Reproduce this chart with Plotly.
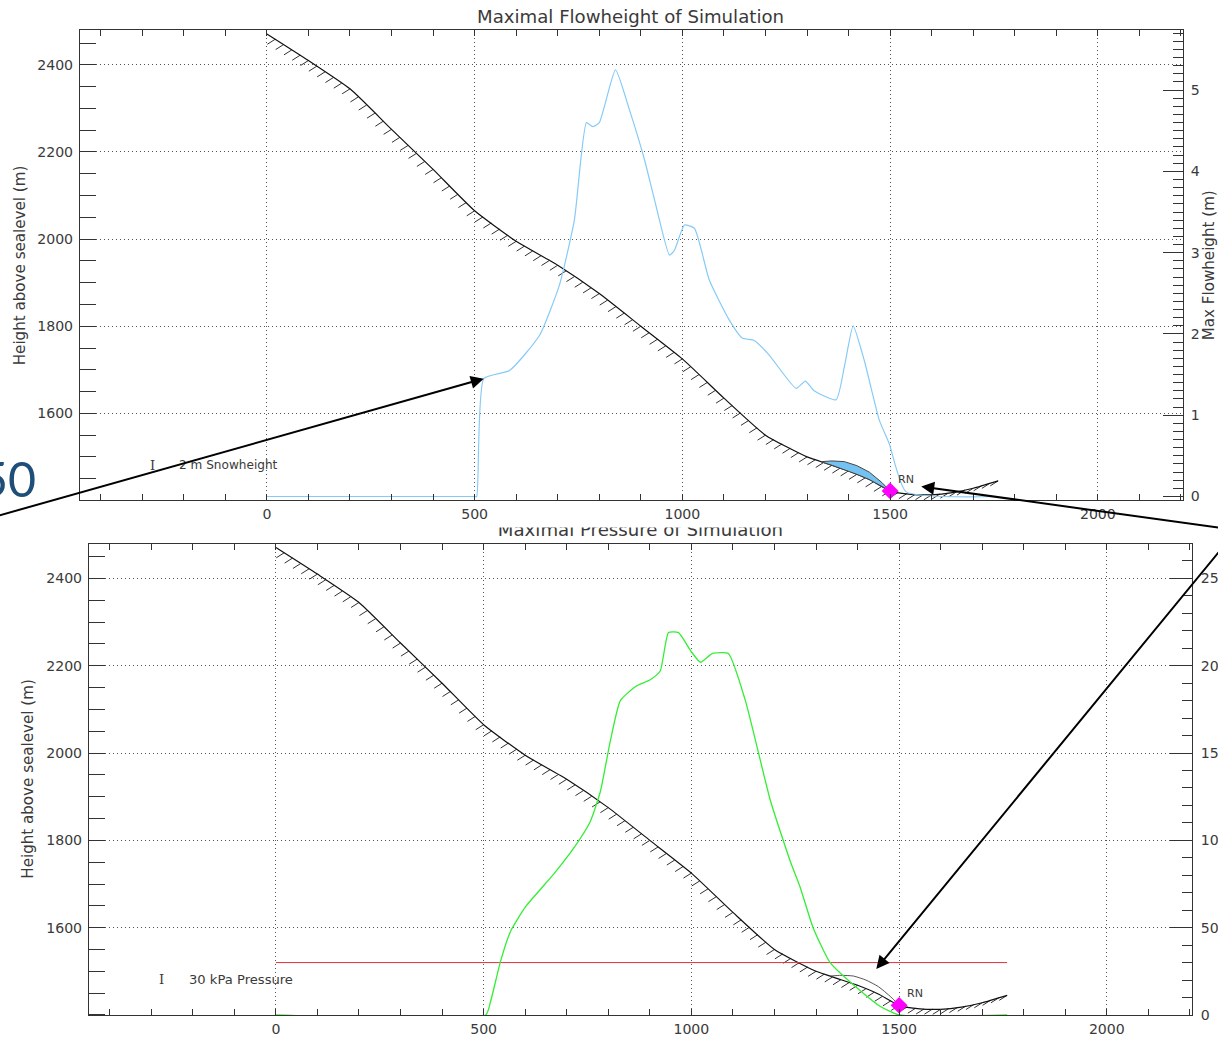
import numpy as np
import plotly.graph_objects as go

W, H = 1218, 1038          # reference picture size (layout coordinates below are in these pixels)
S = 1.0085                 # compensation for the slight down-scaling seen in the rendered photo
FW, FH = round(W * S), round(H * S)

# ---------------- data ----------------
terrain_x = [0, 100, 200, 300, 400, 500, 600, 700, 800, 900, 1000, 1100, 1200, 1300, 1350, 1400, 1450, 1500, 1550, 1600, 1650, 1700, 1760]
terrain_h = [2471, 2410, 2345, 2252, 2160, 2065, 1995, 1940, 1875, 1800, 1725, 1635, 1550, 1500, 1484, 1468, 1448, 1422, 1414, 1413, 1418, 1428, 1445]

flow_x = [0, 500, 505, 522, 584, 656, 704, 740, 769, 784, 800, 839, 873, 909, 933, 969, 981, 1005, 1029, 1065, 1113, 1144, 1173, 1209, 1274, 1296, 1317, 1370, 1390, 1411, 1438, 1474, 1498, 1538, 1760]
flow_v = [0, 0, 0, 1.45, 1.55, 1.98, 2.6, 3.4, 4.6, 4.55, 4.6, 5.25, 4.75, 4.14, 3.65, 2.97, 3.03, 3.34, 3.3, 2.66, 2.17, 1.95, 1.92, 1.74, 1.33, 1.42, 1.3, 1.19, 1.6, 2.1, 1.67, 0.94, 0.65, 0.06, 0]

deposit_x = [1334, 1360, 1390, 1420, 1450, 1480, 1500]
deposit_t = [0, 10, 18, 20, 17, 9, 0]

press_x = [0, 505, 517, 541, 565, 601, 637, 673, 721, 757, 781, 805, 829, 865, 901, 925, 945, 969, 1000, 1022, 1050, 1089, 1130, 1190, 1238, 1262, 1293, 1334, 1406, 1454, 1500, 1760]
press_v = [0, 0, 8, 31, 48, 62, 72, 82, 97, 111, 128, 157, 180, 188, 192, 197, 219, 219, 208, 202, 207, 207, 180, 123, 88, 73, 50, 30, 14, 5, 0, 0]

threshold_kpa = 30
rn_x = 1500

x_ticks = [0, 500, 1000, 1500, 2000]
h_ticks = [1600, 1800, 2000, 2200, 2400]
flow_ticks = [0, 1, 2, 3, 4, 5]
press_ticks = [0, 50, 100, 150, 200, 250]

X_RANGE = [-450, 2205]
H_RANGE = [1400, 2480]
F_RANGE = [-0.049, 5.739]
P_RANGE = [0, 270]

# plot boxes in reference pixels: (left, right, top, bottom)
TOP_BOX = (80, 1184, 30, 500)
BOT_BOX = (89, 1193, 543, 1014)

# ---------------- helpers ----------------
def px(v):
    return v / W

def py(v):
    return 1 - v / H

def sz(v):
    return v * S

def to_x(p, box):
    l, r, _, _ = box
    return X_RANGE[0] + (p - l) / (r - l) * (X_RANGE[1] - X_RANGE[0])

def to_y(p, box, rng):
    _, _, t, b = box
    return rng[0] + (b - p) / (b - t) * (rng[1] - rng[0])

TXT = "#3a3a3a"
AX = "#333333"
GRID = "#555555"
GDASH = "1px,3px"

hx = np.arange(20, 1761, 20)
hh = np.interp(hx, terrain_x, terrain_h)
hatch_x, hatch_y = [], []
for a, b in zip(hx, hh):
    hatch_x += [a, a - 19, None]
    hatch_y += [b, b - 11.5, None]

dep_ter = np.interp(deposit_x, terrain_x, terrain_h)
dep_top = dep_ter + np.array(deposit_t)
poly_x = list(deposit_x) + list(deposit_x[::-1])
poly_y = list(dep_top) + list(dep_ter[::-1])
rn_h = float(np.interp(rn_x, terrain_x, terrain_h))

fig = go.Figure()

for xa, ya in [("x", "y"), ("x3", "y3")]:
    fig.add_trace(go.Scatter(x=hatch_x, y=hatch_y, xaxis=xa, yaxis=ya, mode="lines",
                             line=dict(color="#333", width=1), hoverinfo="skip"))
    fig.add_trace(go.Scatter(x=terrain_x, y=terrain_h, xaxis=xa, yaxis=ya, mode="lines",
                             line=dict(color="#111", width=1.2, shape="spline", smoothing=0.5), hoverinfo="skip"))

# top deposit fill
fig.add_trace(go.Scatter(x=poly_x, y=poly_y, xaxis="x", yaxis="y", mode="lines", fill="toself",
                         fillcolor="#74C2F2", line=dict(color="#444", width=1)))
# bottom deposit outline
fig.add_trace(go.Scatter(x=deposit_x, y=dep_top, xaxis="x3", yaxis="y3", mode="lines",
                         line=dict(color="#555", width=1, shape="spline", smoothing=0.6)))

# flowheight
fig.add_trace(go.Scatter(x=flow_x, y=flow_v, xaxis="x", yaxis="y2", mode="lines",
                         line=dict(color="#86CBF7", width=1.2, shape="spline", smoothing=0.5)))
# pressure threshold + pressure
fig.add_trace(go.Scatter(x=[terrain_x[0], terrain_x[-1]], y=[threshold_kpa, threshold_kpa], xaxis="x3", yaxis="y4",
                         mode="lines", line=dict(color="#E0303A", width=1)))
fig.add_trace(go.Scatter(x=press_x, y=press_v, xaxis="x3", yaxis="y4", mode="lines",
                         line=dict(color="#33EE33", width=1.3, shape="spline", smoothing=0.5)))

# RN markers
for xa, ya in [("x", "y"), ("x3", "y3")]:
    fig.add_trace(go.Scatter(x=[rn_x], y=[rn_h], xaxis=xa, yaxis=ya, mode="markers",
                             marker=dict(symbol="diamond", size=13, color="#FF00FF")))

# clipped bottom title (partly hidden, as in the reference)
fig.add_trace(go.Scatter(x=[641], y=[530.5], xaxis="x5", yaxis="y5", mode="text",
                         text=["Maximal Pressure of Simulation"], cliponaxis=True,
                         textfont=dict(size=sz(18), color=TXT), textposition="middle center"))

xcommon = dict(range=X_RANGE, tickvals=x_ticks, ticks="", showline=True, linecolor=AX, linewidth=1,
               mirror="ticks", showgrid=True, gridcolor=GRID, griddash=GDASH, gridwidth=1, zeroline=False,
               tickfont=dict(size=sz(14), color=TXT), ticklabelstandoff=1,
               minor=dict(tickmode="linear", tick0=0, dtick=100, ticks="inside", ticklen=6, tickcolor=AX, showgrid=False))
ycommon = dict(range=H_RANGE, tickvals=h_ticks, ticks="", showline=True, linecolor=AX, linewidth=1,
               showgrid=True, gridcolor=GRID, griddash=GDASH, gridwidth=1, zeroline=False,
               tickfont=dict(size=sz(14), color=TXT), ticklabelstandoff=3,
               minor=dict(tickmode="linear", tick0=0, dtick=50, ticks="inside", ticklen=16, tickcolor=AX, showgrid=False))

fig.update_layout(
    width=FW, height=FH, margin=dict(l=0, r=0, t=0, b=0),
    paper_bgcolor="white", plot_bgcolor="rgba(0,0,0,0)", showlegend=False,
    font=dict(family="DejaVu Sans", color=TXT),
    xaxis=dict(domain=[px(TOP_BOX[0]), px(TOP_BOX[1])], anchor="y", **xcommon),
    yaxis=dict(domain=[py(TOP_BOX[3]), py(TOP_BOX[2])], anchor="x", **ycommon),
    yaxis2=dict(overlaying="y", side="right", anchor="x", range=F_RANGE, tickvals=flow_ticks,
                ticks="inside", ticklen=20, tickcolor=AX, showline=True, linecolor=AX, showgrid=False, zeroline=False,
                tickfont=dict(size=sz(14), color=TXT), ticklabelstandoff=4,
                minor=dict(tickmode="linear", tick0=0, dtick=0.1, ticks="inside", ticklen=10, tickcolor=AX)),
    xaxis3=dict(domain=[px(BOT_BOX[0]), px(BOT_BOX[1])], anchor="y3", **xcommon),
    yaxis3=dict(domain=[py(BOT_BOX[3]), py(BOT_BOX[2])], anchor="x3", **ycommon),
    yaxis4=dict(overlaying="y3", side="right", anchor="x3", range=P_RANGE, tickvals=press_ticks,
                ticks="inside", ticklen=22, tickcolor=AX, showline=True, linecolor=AX, showgrid=False, zeroline=False,
                tickfont=dict(size=sz(14), color=TXT), ticklabelstandoff=5,
                minor=dict(tickmode="linear", tick0=0, dtick=10, ticks="inside", ticklen=10, tickcolor=AX)),
    xaxis5=dict(domain=[0, 1], range=[0, W], visible=False, fixedrange=True),
    yaxis5=dict(domain=[py(541), py(527)], range=[541, 527], visible=False, fixedrange=True, anchor="x5"),
)

ann = []
def text(t, xp, yp, size=13, anchor="center", angle=0, family=None, color=TXT):
    d = dict(text=t, x=px(xp), y=py(yp), xref="paper", yref="paper", showarrow=False,
             xanchor=anchor, yanchor="middle", textangle=angle, font=dict(size=sz(size), color=color))
    if family:
        d["font"]["family"] = family
    ann.append(d)

text("Maximal Flowheight of Simulation", 631, 16, size=18)
text("Height above sealevel (m)", 20, 265, size=15, angle=-90)
text("Max Flowheight (m)", 1210, 265, size=15, angle=-90)
text("Height above sealevel (m)", 28, 778, size=15, angle=-90)
text("I", 153, 465, size=13, family="DejaVu Serif")
text("2 m Snowheight", 177, 465, size=12, anchor="left")
text("I", 162, 979, size=13, family="DejaVu Serif")
text("30 kPa Pressure", 187, 979, size=13, anchor="left")
text("RN", 907, 479, size=11)
text("RN", 916, 993, size=11)
text("50", 38, 478, size=48, anchor="right", family="Lato", color="#1F4E79")

# arrows: tip and tail both given in axis coordinates
arrow = dict(text="", showarrow=True, arrowhead=2, arrowsize=1.3, arrowwidth=2, arrowcolor="black", standoff=0)
ann.append(dict(x=522, y=1.45, xref="x", yref="y2", axref="x", ayref="y2",
                ax=to_x(-40, TOP_BOX), ay=to_y(526, TOP_BOX, F_RANGE), **arrow))
ann.append(dict(x=to_x(922, TOP_BOX), y=to_y(486, TOP_BOX, H_RANGE), xref="x", yref="y", axref="x", ayref="y",
                ax=to_x(1262, TOP_BOX), ay=to_y(533, TOP_BOX, H_RANGE), **arrow))
ann.append(dict(x=to_x(877, BOT_BOX), y=to_y(968, BOT_BOX, H_RANGE), xref="x3", yref="y3", axref="x3", ayref="y3",
                ax=to_x(1240, BOT_BOX), ay=to_y(527, BOT_BOX, H_RANGE), **arrow))

fig.update_layout(annotations=ann)
fig.write_html(
    "out.html",
    config={"displayModeBar": False, "staticPlot": True},
    post_script=(
        "var s=document.documentElement.style;s.margin='0';s.padding='0';s.overflow='hidden';"
        "var b=document.body.style;b.margin='0';b.padding='0';b.overflow='hidden';"
    ),
)
